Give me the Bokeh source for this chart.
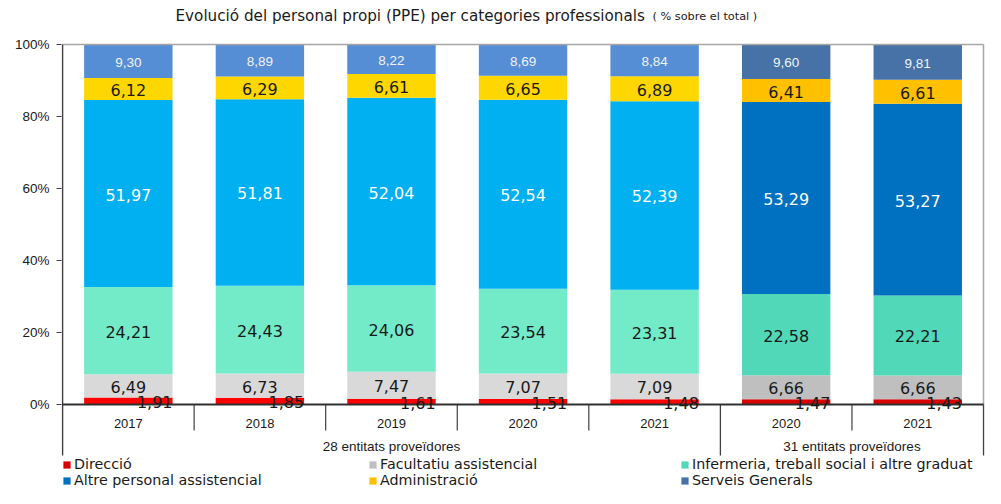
from bokeh.plotting import figure
from bokeh.models import ColumnDataSource, Range1d, FixedTicker, Legend, LegendItem, Label
from bokeh.core.properties import value
from bokeh.embed import file_html
from bokeh.resources import INLINE

# ---- data ----
years = ["2017", "2018", "2019", "2020", "2021", "2020", "2021"]
groups = ["28 entitats proveïdores", "31 entitats proveïdores"]
group_sizes = [5, 2]
categories = ["Direcció", "Facultatiu assistencial",
              "Infermeria, treball social i altre graduat",
              "Altre personal assistencial", "Administració", "Serveis Generals"]
direccio = [1.91, 1.85, 1.61, 1.51, 1.48, 1.47, 1.43]
facultatiu = [6.49, 6.73, 7.47, 7.07, 7.09, 6.66, 6.66]
infermeria = [24.21, 24.43, 24.06, 23.54, 23.31, 22.58, 22.21]
altre = [51.97, 51.81, 52.04, 52.54, 52.39, 53.29, 53.27]
administracio = [6.12, 6.29, 6.61, 6.65, 6.89, 6.41, 6.61]
serveis = [9.30, 8.89, 8.22, 8.69, 8.84, 9.60, 9.81]
y_ticks = [0, 20, 40, 60, 80, 100]
y_tick_labels = ["0%", "20%", "40%", "60%", "80%", "100%"]
title_text = "Evolució del personal propi (PPE) per categories professionals"
subtitle_text = "( % sobre el total )"

series = [direccio, facultatiu, infermeria, altre, administracio, serveis]
colors_g1 = ["#FF0000", "#D9D9D9", "#73EAC8", "#00B0F0", "#FFD700", "#558ED5"]
colors_g2 = ["#D90000", "#BFBFBF", "#50D8B8", "#0070C0", "#FFC000", "#4672A8"]
label_colors = ["#1a1a1a", "#1a1a1a", "#1a1a1a", "#FFFFFF", "#1a1a1a", "#F2F2F2"]

# ---- layout (pixels) ----
W, H = 985, 488
LEFT = 61            # frame left
PX_PER_PCT = 3.60
ZERO_PX = 404        # pixel row of 0 %
BAR_W = 0.672
n = len(years)
X_END = n + 0.015
px_per_x = (W - LEFT) / (X_END + 0.008)

def ydata(py):
    return (ZERO_PX - py) / PX_PER_PCT

def xdata(px):
    return (px - LEFT) / px_per_x - 0.008

xs = [i + 0.5 for i in range(n)]
group_of = []
for g, s in enumerate(group_sizes):
    group_of += [g] * s

p = figure(width=W, height=H, x_range=Range1d(-0.008, X_END),
           y_range=Range1d(ydata(H), ydata(0)),
           output_backend="svg", toolbar_location=None, x_axis_location=None,
           min_border_left=LEFT, min_border_right=0, min_border_top=0, min_border_bottom=0)
p.outline_line_color = None
p.grid.visible = False
p.background_fill_color = "white"

ax = p.yaxis[0]
ax.ticker = FixedTicker(ticks=y_ticks)
ax.major_label_overrides = dict(zip(y_ticks, y_tick_labels))
ax.minor_tick_line_color = None
ax.major_tick_in = 0
ax.major_tick_out = 5
ax.major_tick_line_color = "#404040"
ax.axis_line_color = None
ax.major_label_text_font = "Liberation Sans"
ax.major_label_text_font_size = "13.5px"
ax.major_label_text_color = "#1a1a1a"
ax.major_label_standoff = 7

# ---- stacked bars ----
renderers = []
bottom = [0.0] * n
for k, vals in enumerate(series):
    top = [b + v for b, v in zip(bottom, vals)]
    cols = [colors_g1[k] if group_of[i] == 0 else colors_g2[k] for i in range(n)]
    src = ColumnDataSource(dict(x=xs, bottom=bottom, top=top, color=cols))
    r = p.vbar(x="x", bottom="bottom", top="top", width=BAR_W, source=src,
               fill_color="color", line_color=None)
    renderers.append(r)
    bottom = top

y_low = ydata(ZERO_PX + 51)
# frame borders
p.segment(x0=[0], y0=[100], x1=[n], y1=[100], line_color="#A6A6A6", line_width=1.5)
p.segment(x0=[n], y0=[0], x1=[n], y1=[100], line_color="#A6A6A6", line_width=1.5)
# left axis line
p.segment(x0=[0], y0=[y_low], x1=[0], y1=[100], line_color="#404040", line_width=1.5)

# separators below axis
group_bounds = [0]
for s in group_sizes:
    group_bounds.append(group_bounds[-1] + s)
inner = [b for b in range(1, n) if b not in group_bounds]
p.segment(x0=inner, y0=[0] * len(inner), x1=inner, y1=[ydata(ZERO_PX + 26)] * len(inner),
          line_color="#404040", line_width=1.2)
outer = [b for b in group_bounds if b > 0]
p.segment(x0=outer, y0=[0] * len(outer), x1=outer, y1=[y_low] * len(outer),
          line_color="#404040", line_width=1.3)
# baseline
p.segment(x0=[0], y0=[0], x1=[n], y1=[0], line_color="#303030", line_width=2)

# ---- value labels ----
bottom = [0.0] * n
for k, vals in enumerate(series):
    mids = [b + v / 2 for b, v in zip(bottom, vals)]
    txt = [f"{v:.2f}".replace(".", ",") for v in vals]
    if k == 0:
        lx = [x + BAR_W / 2 for x in xs]
        align = "right"
    else:
        lx = xs
        align = "center"
    src = ColumnDataSource(dict(x=lx, y=mids, t=txt))
    if k == 5:
        font, size = "Liberation Sans", "13.5px"
    else:
        font, size = "DejaVu Sans", "16px"
    p.text(x="x", y="y", text="t", source=src, text_align=align, text_baseline="middle",
           text_font=value(font), text_font_size=size, text_color=label_colors[k],
           y_offset=1)
    bottom = [b + v for b, v in zip(bottom, vals)]

# year and group labels
p.text(x=xs, y=[ydata(ZERO_PX + 19)] * n, text=years, text_align="center",
       text_baseline="middle", text_font=value("Liberation Sans"), text_font_size="13px",
       text_color="#1a1a1a")
gx = [(group_bounds[i] + group_bounds[i + 1]) / 2 for i in range(len(groups))]
p.text(x=gx, y=[ydata(ZERO_PX + 42)] * len(groups), text=groups, text_align="center",
       text_baseline="middle", text_font=value("Liberation Sans"), text_font_size="13.5px",
       text_color="#1a1a1a")

# ---- title ----
p.add_layout(Label(x=xdata(175), y=ydata(15), text=title_text, text_align="left",
                   text_baseline="middle", text_font="DejaVu Sans",
                   text_font_size="15.2px", text_color="#1a1a1a"))
p.add_layout(Label(x=xdata(652), y=ydata(16), text=subtitle_text, text_align="left",
                   text_baseline="middle", text_font="DejaVu Sans",
                   text_font_size="11.3px", text_color="#1a1a1a"))

# ---- legends (three columns) ----
col_px = [62, 368, 680]
for c in range(3):
    items = [LegendItem(label=categories[c], renderers=[renderers[c]], index=n - 1),
             LegendItem(label=categories[c + 3], renderers=[renderers[c + 3]], index=n - 1)]
    leg = Legend(items=items, location=(col_px[c] - LEFT, 0), orientation="vertical",
                 label_text_font="DejaVu Sans", label_text_font_size="14.3px",
                 label_text_color="#1a1a1a", glyph_width=9, glyph_height=9,
                 label_standoff=3, spacing=-2, padding=0, margin=0, label_height=14,
                 background_fill_alpha=0, border_line_alpha=0)
    p.add_layout(leg)

open("out.html", "w").write(file_html(p, INLINE))
